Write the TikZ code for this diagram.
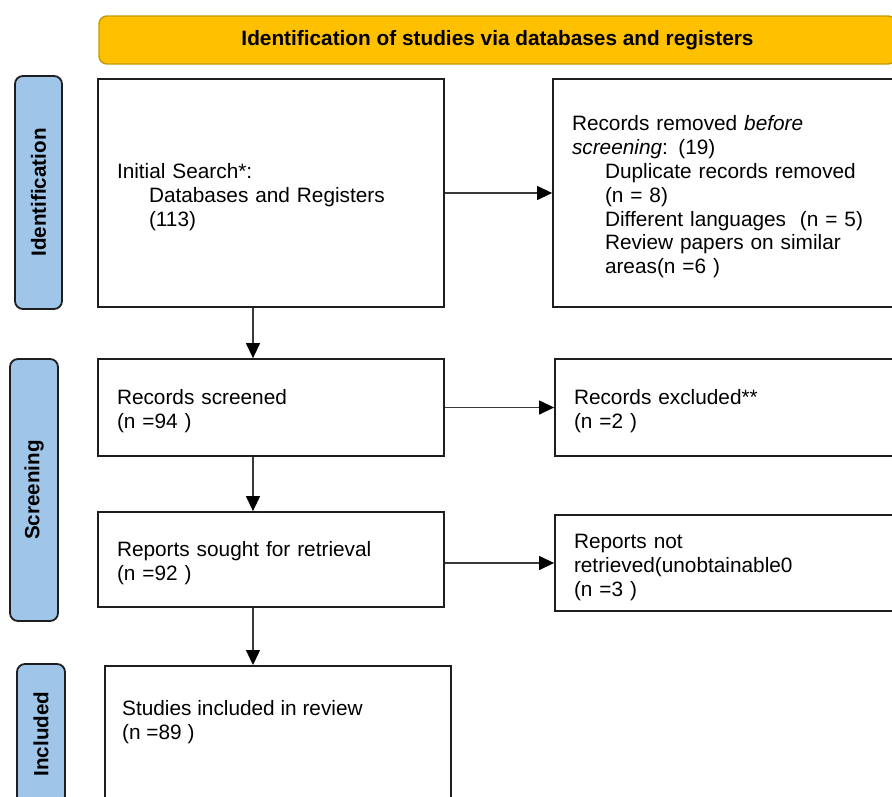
\documentclass[tikz,border=0pt]{standalone}
\usepackage{fontspec}
\setmainfont{Liberation Sans}
\usetikzlibrary{arrows.meta}
\definecolor{bannerfill}{HTML}{FFC000}
\definecolor{bannerline}{HTML}{C49A00}
\definecolor{sidefill}{HTML}{9FC5E8}
\definecolor{boxline}{HTML}{1E1E1E}
\definecolor{arrowline}{HTML}{3A3A3A}
\begin{document}
\begin{tikzpicture}[x=1pt,y=-1pt,
  txt/.style={font=\fontsize{20.8}{23.8}\selectfont},
  flowbox/.style={draw=boxline, line width=1.8pt, fill=white, align=left,
    inner xsep=19pt, inner ysep=0pt, txt, anchor=center,
    execute at begin node={\rule{0pt}{23pt}}},
  sidebox/.style={draw=boxline, line width=1.8pt, fill=sidefill, rounded corners=8pt,
    inner sep=0pt, rotate=90, font=\bfseries\fontsize{20.6}{24}\selectfont},
  banner/.style={draw=bannerline, line width=1.4pt, fill=bannerfill, rounded corners=8pt,
    inner sep=0pt, font=\bfseries\fontsize{20.8}{24}\selectfont},
  flow/.style={draw=arrowline, line width=1.3pt,
    -{Triangle[length=15pt,width=14pt,color=black]}}
]
\useasboundingbox (0,0) rectangle (892,796);
\clip (0,0) rectangle (892,796);

% banner
\node[banner, minimum width=797pt, minimum height=48pt] (ban) at (497.5,40)
  {Identification of studies via databases and registers};

% side labels
\node[sidebox, minimum width=233pt, minimum height=47pt] (s1) at (38.5,192.5) {Identification};
\node[sidebox, minimum width=262pt, minimum height=48pt] (s2) at (34,490) {Screening};
\node[sidebox, minimum width=140pt, minimum height=48pt] (s3) at (41,734) {Included};

% flow boxes
\node[flowbox, text width=308pt, minimum height=228pt] (b1) at (271,193)
  {Initial Search*:\\ \hspace*{32pt}Databases and Registers\\ \hspace*{32pt}(113)};
\node[flowbox, text width=319pt, minimum height=228pt] (b2) at (731.5,193)
  {Records removed \textit{before}\\ \textit{screening}: (19)\\
   \hspace*{33pt}Duplicate records removed\\ \hspace*{33pt}(n = 8)\\
   \hspace*{33pt}Different languages\ \ (n = 5)\\
   \hspace*{33pt}Review papers on similar\\ \hspace*{33pt}areas(n =6 )};

\node[flowbox, text width=308pt, minimum height=97pt] (b3) at (271,407.5)
  {Records screened\\ (n =94 )};
\node[flowbox, text width=317pt, minimum height=97pt] (b4) at (732.5,407.5)
  {Records excluded**\\ (n =2 )};

\node[flowbox, text width=308pt, minimum height=95pt] (b5) at (271,559.5)
  {Reports sought for retrieval\\ (n =92 )};
\node[flowbox, text width=317pt, minimum height=96pt] (b6) at (732.5,563)
  {Reports not\\ retrieved(unobtainable0\\ (n =3 )};

\node[draw=boxline, line width=1.8pt, fill=white, inner sep=0pt, anchor=north west,
  minimum width=346pt, minimum height=170pt] (b7) at (104,665) {};
\node[txt, align=left, inner sep=0pt, anchor=north west] (t7) at (122,700)
  {Studies included in review\\ (n =89 )};

% connectors
\coordinate (col) at (253,0);
\draw[flow] (b1.south -| col) -- (b3.north -| col);
\draw[flow] (b3.south -| col) -- (b5.north -| col);
\draw[flow] (b5.south -| col) -- (b7.north -| col);
\draw[flow] (b1.east) -- (b1.east -| b2.west);
\draw[flow] (b3.east) -- (b3.east -| b4.west);
\draw[flow] (b5.east |- b6.west) -- (b6.west);
\end{tikzpicture}
\end{document}
